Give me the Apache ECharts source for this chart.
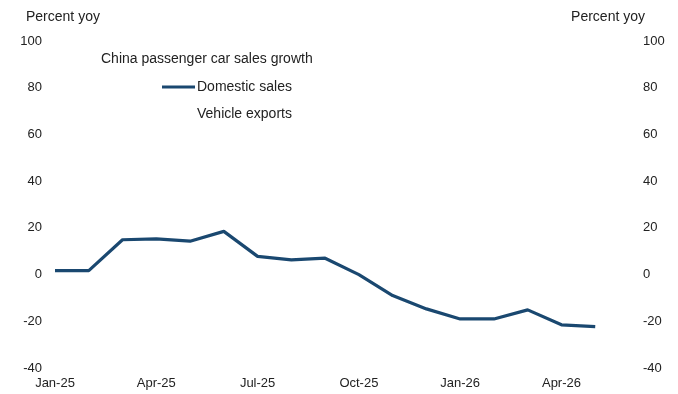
<!DOCTYPE html>
<html>
<head>
<meta charset="utf-8">
<script src="https://cdn.jsdelivr.net/npm/echarts@6/dist/echarts.min.js"></script>
<style>
  html, body { margin: 0; padding: 0; background: #fff; }
  #chart { width: 678px; height: 394px; }
</style>
</head>
<body>
<div id="chart"></div>
<script>
// Monthly categories, Jan-25 through Jun-26 (last slot left open)
const months = ['Jan-25','Feb-25','Mar-25','Apr-25','May-25','Jun-25','Jul-25','Aug-25','Sep-25',
  'Oct-25','Nov-25','Dec-25','Jan-26','Feb-26','Mar-26','Apr-26','May-26','Jun-26'];
// Domestic passenger car sales, percent yoy
const domesticSales = [1.7, 1.7, 14.9, 15.3, 14.3, 18.5, 7.8, 6.3, 7.0,
  0.0, -9.0, -14.7, -19.0, -19.0, -15.1, -21.5, -22.3];
// Vehicle exports (legend entry only)
const vehicleExports = [];
// Value-axis ticks
const yMin = -40, yMax = 100, yStep = 20;

const font = 'Liberation Sans, Arial, Helvetica, sans-serif';
const textColor = '#222';
const lineColor = '#1a4870';
// plain line swatch for the legend
const lineIcon = 'path://M0,0 L33,0 L33,3 L0,3 Z';

const chart = echarts.init(document.getElementById('chart'), null, { renderer: 'canvas' });
chart.setOption({
  animation: false,
  backgroundColor: '#fff',
  textStyle: { fontFamily: font, color: textColor },
  title: [
    { text: 'Percent yoy', left: 26, top: 10, padding: 0,
      textStyle: { fontFamily: font, fontSize: 14, fontWeight: 'normal', color: textColor } },
    { text: 'Percent yoy', right: 33, top: 10, padding: 0,
      textStyle: { fontFamily: font, fontSize: 14, fontWeight: 'normal', color: textColor } },
    { text: 'China passenger car sales growth', left: 101, top: 52, padding: 0,
      textStyle: { fontFamily: font, fontSize: 14, fontWeight: 'normal', color: textColor } }
  ],
  legend: {
    orient: 'vertical',
    left: 162, top: 80, padding: 0,
    itemWidth: 33, itemHeight: 14, itemGap: 13,
    icon: lineIcon,
    symbolKeepAspect: true,
    textStyle: { fontFamily: font, fontSize: 14, color: textColor, padding: [0, 0, 0, -3] },
    data: ['Domestic sales', 'Vehicle exports']
  },
  grid: { left: 55, right: 49, top: 41, bottom: 26, containLabel: false },
  xAxis: {
    type: 'category',
    data: months,
    boundaryGap: false,
    axisLine: { show: false },
    axisTick: { show: false },
    splitLine: { show: false },
    axisLabel: {
      interval: function (i) { return i % 3 === 0 && i < 17; },
      margin: 9, fontSize: 13, color: textColor, fontFamily: font
    }
  },
  yAxis: [
    {
      type: 'value', min: yMin, max: yMax, interval: yStep, position: 'left',
      axisLine: { show: false }, axisTick: { show: false }, splitLine: { show: false },
      axisLabel: { margin: 13, fontSize: 13, color: textColor, fontFamily: font }
    },
    {
      type: 'value', min: yMin, max: yMax, interval: yStep, position: 'right',
      axisLine: { show: false }, axisTick: { show: false }, splitLine: { show: false },
      axisLabel: { margin: 14, fontSize: 13, color: textColor, fontFamily: font }
    }
  ],
  series: [
    {
      name: 'Domestic sales', type: 'line', data: domesticSales,
      yAxisIndex: 0, showSymbol: false, symbol: 'none',
      lineStyle: { color: lineColor, width: 3.2 },
      itemStyle: { color: lineColor }
    },
    {
      name: 'Vehicle exports', type: 'line', data: vehicleExports,
      yAxisIndex: 1, showSymbol: false, symbol: 'none',
      lineStyle: { color: '#ffffff', width: 3 },
      itemStyle: { color: '#ffffff' }
    }
  ]
});
</script>
</body>
</html>
